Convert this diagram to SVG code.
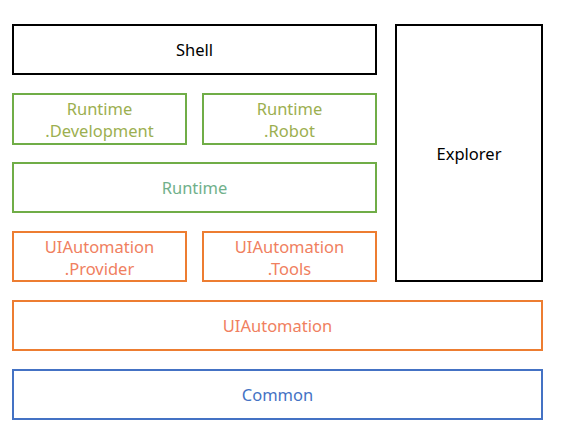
<svg xmlns="http://www.w3.org/2000/svg" width="562" height="439" viewBox="0 0 562 439">
<style>
rect{fill:#fff;stroke-width:2}
.k{stroke:#000}.g{stroke:#70AD47}.o{stroke:#ED7D31}.b{stroke:#4472C4}
text{font-family:"Noto Sans","Liberation Sans",sans-serif;font-size:16.5px;text-anchor:middle;dominant-baseline:central}
.tk{fill:#000}.tg{fill:#9CAF50}.tr{fill:#70B08A}.to{fill:#F08060}.tb{fill:#4472C4}
</style>
<rect width="562" height="439" style="fill:#fff;stroke:none"/>
<g id="shell"><rect class="k" x="13" y="25" width="363" height="49"/><text class="tk" x="194.5" y="49.5">Shell</text></g>
<g id="explorer"><rect class="k" x="396" y="25" width="146" height="256"/><text class="tk" x="469" y="153">Explorer</text></g>
<g id="runtime-dev"><rect class="g" x="13" y="94" width="173" height="50"/><text class="tg" x="99.5" y="108">Runtime</text><text class="tg" x="99.5" y="130">.Development</text></g>
<g id="runtime-robot"><rect class="g" x="203" y="94" width="173" height="50"/><text class="tg" x="289.5" y="108">Runtime</text><text class="tg" x="289.5" y="130">.Robot</text></g>
<g id="runtime"><rect class="g" x="13" y="163" width="363" height="49"/><text class="tr" x="194.5" y="187.5">Runtime</text></g>
<g id="uia-provider"><rect class="o" x="13" y="232" width="173" height="49"/><text class="to" x="99.5" y="246">UIAutomation</text><text class="to" x="99.5" y="268">.Provider</text></g>
<g id="uia-tools"><rect class="o" x="203" y="232" width="173" height="49"/><text class="to" x="289.5" y="246">UIAutomation</text><text class="to" x="289.5" y="268">.Tools</text></g>
<g id="uia"><rect class="o" x="13" y="301" width="529" height="49"/><text class="to" x="277.5" y="325.5">UIAutomation</text></g>
<g id="common"><rect class="b" x="13" y="370" width="529" height="49"/><text class="tb" x="277.5" y="394.5">Common</text></g>
<g id="connectors"/>
</svg>
